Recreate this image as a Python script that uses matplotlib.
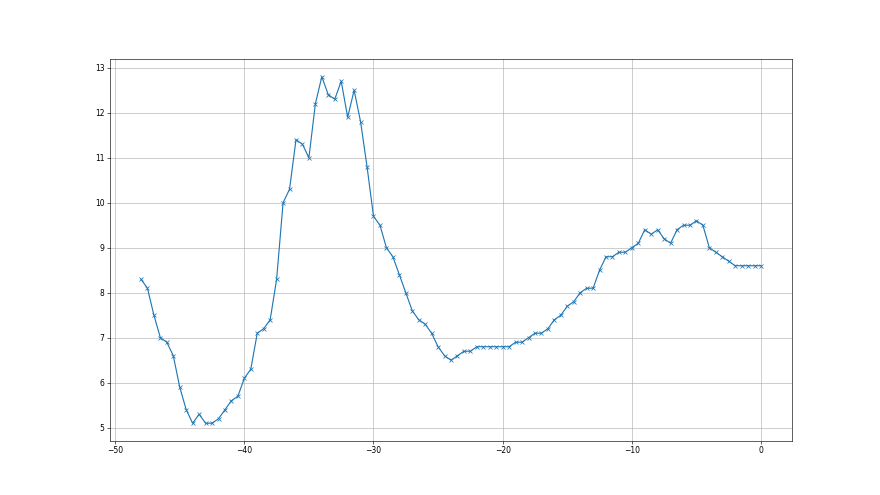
import matplotlib
matplotlib.use("Agg")
import matplotlib.pyplot as plt
import numpy as np

x_start = -48.0
x_step = 0.5
values = [
    8.3, 8.1, 7.5, 7.0, 6.9, 6.6, 5.9, 5.4, 5.1, 5.3,
    5.1, 5.1, 5.2, 5.4, 5.6, 5.7, 6.1, 6.3, 7.1, 7.2,
    7.4, 8.3, 10.0, 10.3, 11.4, 11.3, 11.0, 12.2, 12.8, 12.4,
    12.3, 12.7, 11.9, 12.5, 11.8, 10.8, 9.7, 9.5, 9.0, 8.8,
    8.4, 8.0, 7.6, 7.4, 7.3, 7.1, 6.8, 6.6, 6.5, 6.6,
    6.7, 6.7, 6.8, 6.8, 6.8, 6.8, 6.8, 6.8, 6.9, 6.9,
    7.0, 7.1, 7.1, 7.2, 7.4, 7.5, 7.7, 7.8, 8.0, 8.1,
    8.1, 8.5, 8.8, 8.8, 8.9, 8.9, 9.0, 9.1, 9.4, 9.3,
    9.4, 9.2, 9.1, 9.4, 9.5, 9.5, 9.6, 9.5, 9.0, 8.9,
    8.8, 8.7, 8.6, 8.6, 8.6, 8.6, 8.6,
]
xs = x_start + x_step * np.arange(len(values))

fig = plt.figure(figsize=(16, 9), dpi=55)
ax = fig.add_subplot(111)
ax.plot(xs, values, marker="x", color="#1f77b4")
ax.grid(True)
fig.savefig("out.png", dpi=55)
